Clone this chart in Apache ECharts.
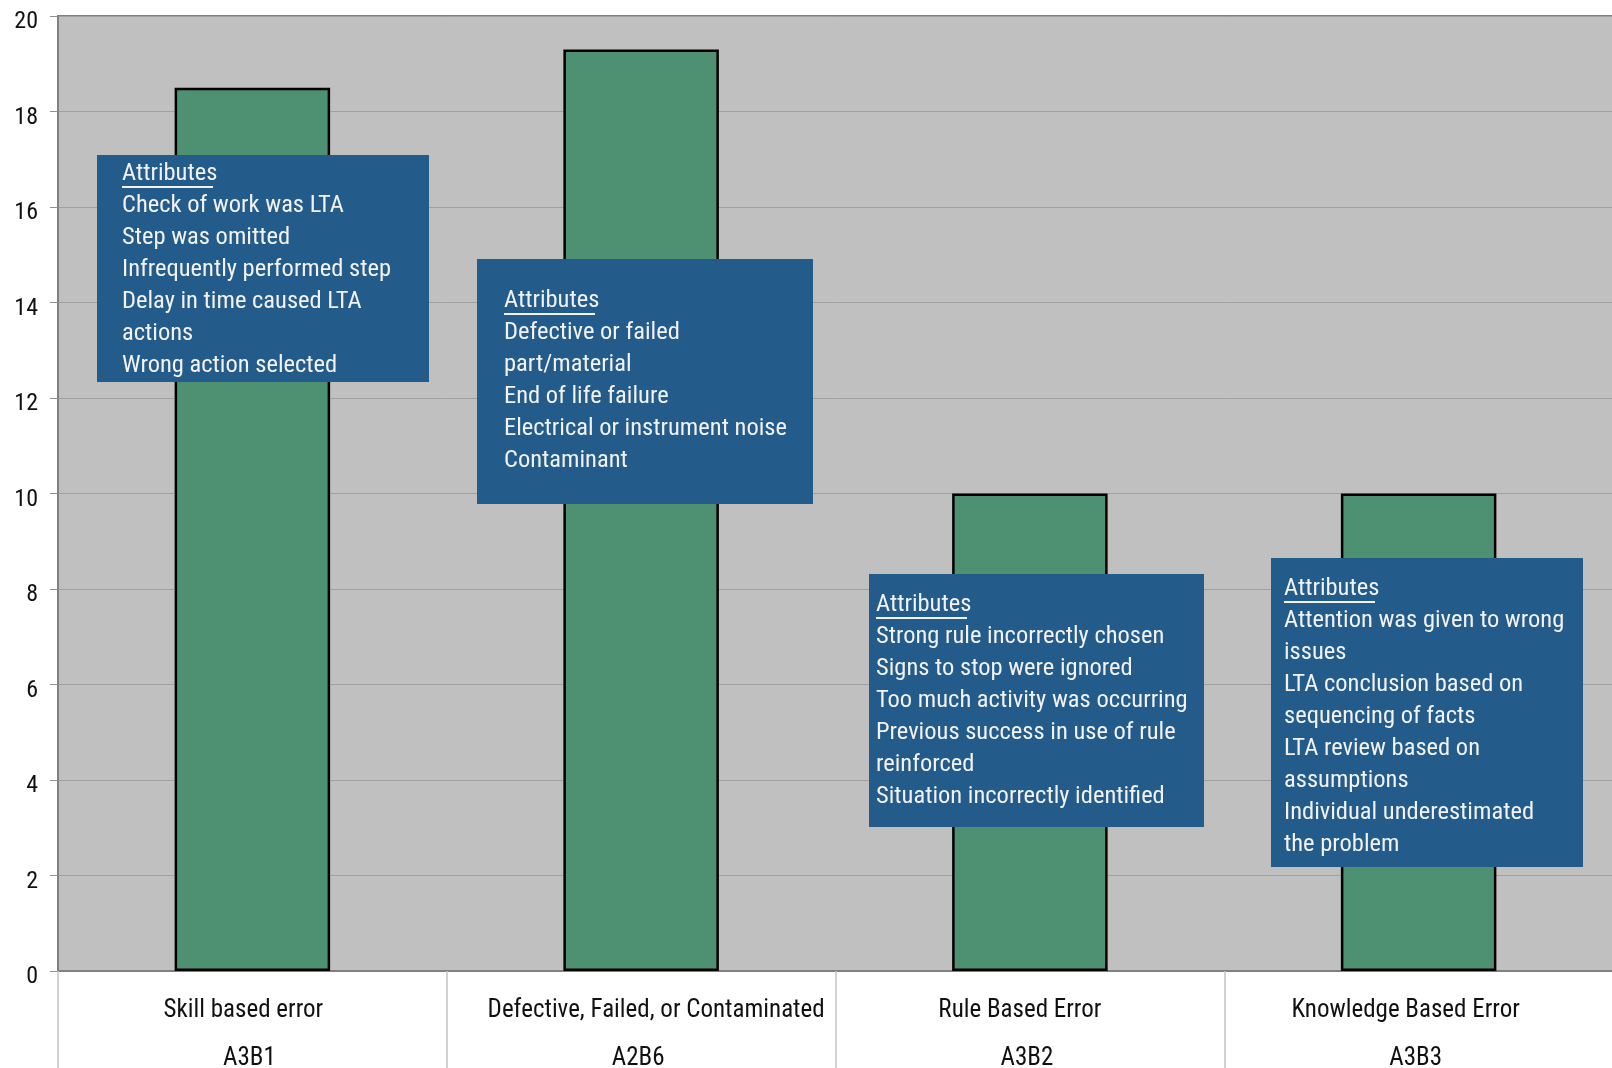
<!DOCTYPE html>
<html><head><meta charset="utf-8">
<script src="https://cdn.jsdelivr.net/npm/echarts@6/dist/echarts.min.js"></script>
<style>html,body{margin:0;padding:0;background:#fff;}#c{width:1612px;height:1068px;}</style>
</head><body><div id="c"></div>
<script>
const categories = ['Skill based error', 'Defective, Failed, or Contaminated', 'Rule Based Error', 'Knowledge Based Error'];
const codes = ['A3B1', 'A2B6', 'A3B2', 'A3B3'];
const values = [18.5, 19.3, 10, 10];
const yTicks = [0, 2, 4, 6, 8, 10, 12, 14, 16, 18, 20];
const noteTitle = 'Attributes';
const notes1 = ['Check of work was LTA', 'Step was omitted', 'Infrequently performed step', 'Delay in time caused LTA', 'actions', 'Wrong action selected'];
const notes2 = ['Defective or failed', 'part/material', 'End of life failure', 'Electrical or instrument noise', 'Contaminant'];
const notes3 = ['Strong rule incorrectly chosen', 'Signs to stop were ignored', 'Too much activity was occurring', 'Previous success in use of rule', 'reinforced', 'Situation incorrectly identified'];
const notes4 = ['Attention was given to wrong', 'issues', 'LTA conclusion based on', 'sequencing of facts', 'LTA review based on', 'assumptions', 'Individual underestimated', 'the problem'];

const FONT = '"Liberation Sans Narrow", "Arial Narrow", "Roboto Condensed", sans-serif';
const chart = echarts.init(document.getElementById('c'));

const LH = 32, FS = 24.5;
function box(x, y, w, h, tx, ty, lines) {
  return {
    type: 'group', x: x, y: y,
    children: [
      { type: 'rect', z: 100, shape: { x: 0, y: 0, width: w, height: h }, style: { fill: '#235b8b' } },
      { type: 'text', z: 101, x: tx, y: ty, style: {
          text: [noteTitle].concat(lines).join('\n'), fill: '#f2f2f2',
          font: FS + 'px ' + FONT, lineHeight: LH, verticalAlign: 'top', align: 'left' } },
      { type: 'line', z: 101, shape: { x1: tx, y1: ty + 29, x2: tx + 91, y2: ty + 29 },
        style: { stroke: '#f2f2f2', lineWidth: 2 } }
    ]
  };
}

const labelBase = { fontFamily: FONT, fontSize: 25, lineHeight: 48, color: '#111' };
const rich = {
  n0: Object.assign({ padding: [0, 18, 0, 0] }, labelBase),
  n1: Object.assign({ padding: [0, 0, 0, 30] }, labelBase),
  n2: Object.assign({ padding: [0, 20, 0, 0] }, labelBase),
  n3: Object.assign({ padding: [0, 26, 0, 0] }, labelBase),
  c: Object.assign({ padding: [0, 6, 0, 0] }, labelBase)
};

chart.setOption({
  animation: false,
  grid: { left: 58, right: -1, top: 16, bottom: 97, outerBoundsMode: 'none', containLabel: false,
          show: true, backgroundColor: '#c0c0c0', borderColor: '#808080', borderWidth: 2 },
  xAxis: {
    type: 'category', data: categories,
    axisLine: { lineStyle: { color: '#808080', width: 2 } },
    axisTick: { show: true, interval: 0, length: 100, lineStyle: { color: '#c4c4c4', width: 1.5 } },
    axisLabel: {
      interval: 0, margin: 16, color: '#111', fontFamily: FONT, fontSize: 25, lineHeight: 48,
      rich: rich,
      formatter: function (v, i) { return '{n' + i + '|' + v + '}\n{c|' + codes[i] + '}'; }
    }
  },
  yAxis: {
    type: 'value', min: yTicks[0], max: yTicks[yTicks.length - 1], interval: 2,
    axisLine: { show: true, lineStyle: { color: '#808080', width: 2 } },
    axisTick: { show: true, length: 8, lineStyle: { color: '#909090' } },
    splitLine: { lineStyle: { color: '#a0a0a0', width: 1 } },
    axisLabel: { margin: 20, color: '#111', fontFamily: FONT, fontSize: 24,
      rich: { y: { fontFamily: FONT, fontSize: 24, color: '#111', padding: [12, 0, 0, 0] } },
      formatter: function (v) { return '{y|' + v + '}'; } }
  },
  series: [{
    type: 'bar', data: values, barWidth: '40%',
    itemStyle: { color: '#4e9172', borderColor: '#000', borderWidth: 2.5 }
  }],
  graphic: [
    box(97, 155, 332, 227, 25, 3, notes1),
    box(477, 259, 336, 245, 27, 26, notes2),
    box(869, 574, 335, 253, 7, 15, notes3),
    box(1271, 558, 312, 309, 13, 15, notes4)
  ]
});
</script></body></html>
